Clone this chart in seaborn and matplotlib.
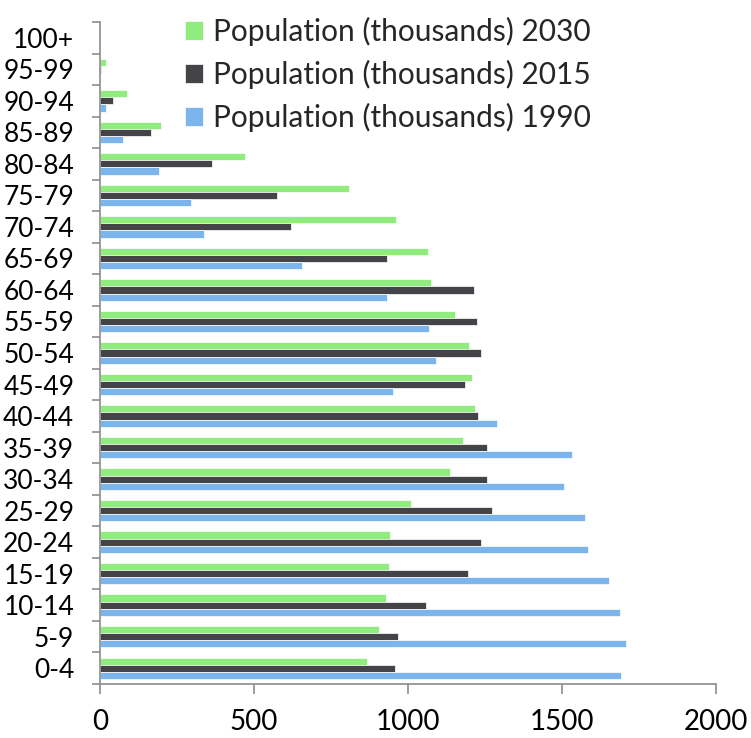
import numpy as np
import pandas as pd
import matplotlib
matplotlib.use("Agg")
import matplotlib.pyplot as plt
import seaborn as sns

# age groups, bottom to top
ages = ['0-4', '5-9', '10-14', '15-19', '20-24', '25-29', '30-34', '35-39',
        '40-44', '45-49', '50-54', '55-59', '60-64', '65-69', '70-74',
        '75-79', '80-84', '85-89', '90-94', '95-99', '100+']
pop_1990 = [1693, 1707, 1689, 1651, 1584, 1575, 1508, 1533, 1290, 952, 1090,
            1067, 932, 655, 339, 295, 193, 75, 18, 1, 0]
pop_2015 = [957, 966, 1057, 1194, 1236, 1272, 1258, 1257, 1228, 1185, 1238,
            1225, 1214, 933, 620, 574, 365, 167, 43, 4, 0]
pop_2030 = [868, 907, 927, 938, 940, 1011, 1137, 1177, 1219, 1208, 1197,
            1151, 1076, 1065, 961, 807, 470, 197, 87, 18, 1]
series_names = ['Population (thousands) 2030', 'Population (thousands) 2015',
                'Population (thousands) 1990']
colors = ['#90ed7d', '#434348', '#7cb5ec']
xticks = [0, 500, 1000, 1500, 2000]

df = pd.concat([
    pd.DataFrame({'age': ages, 'series': series_names[0], 'value': pop_2030}),
    pd.DataFrame({'age': ages, 'series': series_names[1], 'value': pop_2015}),
    pd.DataFrame({'age': ages, 'series': series_names[2], 'value': pop_1990}),
])

sns.set_theme(style='white')
plt.rcParams['font.family'] = ['Lato', 'DejaVu Sans']
axis_grey = '#8c8c8c'

fig = plt.figure(figsize=(7.51, 7.38), dpi=100)
ax = fig.add_axes([100 / 751, 54 / 738, 616 / 751, 662 / 738])

sns.barplot(data=df, x='value', y='age', hue='series', order=ages[::-1],
            hue_order=series_names, palette=colors, saturation=1, orient='h',
            width=0.68, edgecolor='white', linewidth=0.5, ax=ax)

ax.set_xlim(0, 2000)
ax.set_ylim(len(ages) - 0.5, -0.5)
ax.set_xticks(xticks)
ax.set_xticklabels([str(t) for t in xticks])
ax.set_xlabel('')
ax.set_ylabel('')

# category boundaries get the tick marks, labels sit in the middle
ax.set_yticks(np.arange(len(ages) + 1) - 0.5, minor=True)
ax.tick_params(axis='y', which='major', length=0, pad=18.5, labelsize=19,
               colors='black')
ax.tick_params(axis='y', which='minor', length=6, width=1.2, color=axis_grey,
               left=True)
ax.tick_params(axis='x', which='major', length=7, width=1.2, color=axis_grey,
               bottom=True, pad=11, labelsize=20, labelcolor='black')

for side in ['top', 'right']:
    ax.spines[side].set_visible(False)
for side in ['left', 'bottom']:
    ax.spines[side].set_color(axis_grey)
    ax.spines[side].set_linewidth(1.2)

handles, labels = ax.get_legend_handles_labels()
ax.legend(handles, labels, loc='upper left',
          bbox_to_anchor=(185 / 751, 1 - 17 / 738),
          bbox_transform=fig.transFigure, frameon=False, fontsize=21.5,
          handlelength=0.6, handleheight=0.6, handletextpad=0.33,
          labelspacing=0.47, borderpad=0, borderaxespad=0)

fig.savefig('out.png', dpi=100)
